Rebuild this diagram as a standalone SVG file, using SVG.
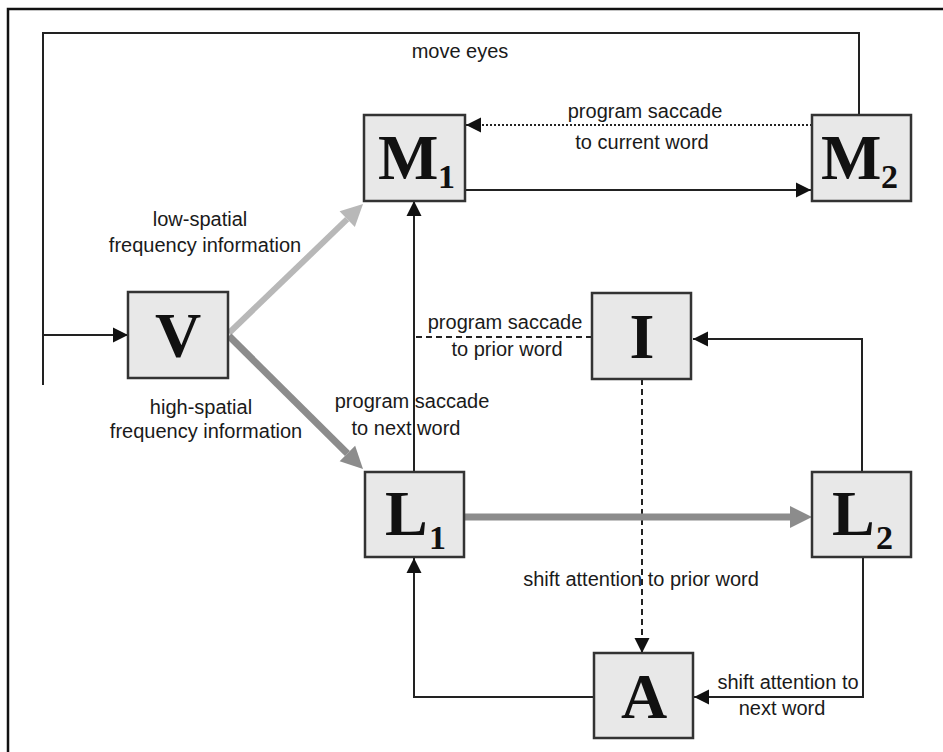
<svg xmlns="http://www.w3.org/2000/svg" width="943" height="752" viewBox="0 0 943 752">
<style>
.box{fill:#e8e8e8;stroke:#333;stroke-width:2.5}
.big{font-family:"Liberation Serif","Times New Roman",serif;font-weight:bold;fill:#111;font-size:64px}
.sub{font-family:"Liberation Serif","Times New Roman",serif;font-weight:bold;fill:#111;font-size:34px}
.lbl{font-family:"Liberation Sans",Arial,sans-serif;font-size:20px;fill:#1a1a1a;text-anchor:middle}
.ln{fill:none;stroke:#222;stroke-width:2}
</style>
<defs>
<marker id="ah" markerUnits="userSpaceOnUse" markerWidth="20" markerHeight="20" refX="15" refY="0" orient="auto" overflow="visible"><path d="M0,-7.5 L15,0 L0,7.5 z" fill="#111"/></marker>
<marker id="gl" markerUnits="userSpaceOnUse" markerWidth="30" markerHeight="30" refX="0" refY="0" orient="auto" overflow="visible"><path d="M0,-11 L22,0 L0,11 z" fill="#b8b8b8"/></marker>
<marker id="gd" markerUnits="userSpaceOnUse" markerWidth="30" markerHeight="30" refX="0" refY="0" orient="auto" overflow="visible"><path d="M0,-11 L22,0 L0,11 z" fill="#8c8c8c"/></marker>
</defs>
<rect width="943" height="752" fill="#fff"/>
<path d="M8,752 V9 H943" fill="none" stroke="#111" stroke-width="2.5"/>
<g id="connectors">
<path class="ln" d="M859,115 V33 H43 V385"/>
<path class="ln" d="M43,335 H128" marker-end="url(#ah)"/>
<path class="ln" d="M812,125 H466" stroke-dasharray="2,2" stroke-width="2.5" marker-end="url(#ah)"/>
<path class="ln" d="M465,190 H811" marker-end="url(#ah)"/>
<path class="ln" d="M414,472 V201" marker-end="url(#ah)"/>
<path class="ln" d="M592,337 H414" stroke-dasharray="6,4"/>
<path class="ln" d="M862,472 V339 H693" marker-end="url(#ah)"/>
<path class="ln" d="M642,379 V653" stroke-dasharray="6,4" stroke-width="1.5" marker-end="url(#ah)"/>
<path class="ln" d="M863,557 V697 H694" marker-end="url(#ah)"/>
<path class="ln" d="M594,697 H414 V558" marker-end="url(#ah)"/>
<path d="M229,333 L347.2,219.2" stroke="#b8b8b8" stroke-width="6" fill="none" marker-end="url(#gl)"/>
<path d="M229,336 L347.4,453.5" stroke="#8c8c8c" stroke-width="7" fill="none" marker-end="url(#gd)"/>
<path d="M465,517 H790" stroke="#8c8c8c" stroke-width="7" fill="none" marker-end="url(#gd)"/>
<text class="lbl" x="460" y="58">move eyes</text>
<text class="lbl" x="645" y="118">program saccade</text>
<text class="lbl" x="642" y="149">to current word</text>
<text class="lbl" x="200" y="226">low-spatial</text>
<text class="lbl" x="205" y="252">frequency information</text>
<text class="lbl" x="505" y="329">program saccade</text>
<text class="lbl" x="507" y="356">to prior word</text>
<text class="lbl" x="201" y="414">high-spatial</text>
<text class="lbl" x="206" y="438">frequency information</text>
<text class="lbl" x="412" y="408">program saccade</text>
<text class="lbl" x="406" y="435">to next word</text>
<text class="lbl" x="641" y="586">shift attention to prior word</text>
<text class="lbl" x="788" y="689">shift attention to</text>
<text class="lbl" x="782" y="715">next word</text>
</g>
<g id="M1"><rect class="box" x="364" y="115" width="101" height="86"/><text class="big" x="378" y="179" font-size="62">M</text><text class="sub" x="438" y="188">1</text></g>
<g id="M2"><rect class="box" x="812" y="115" width="99" height="86"/><text class="big" x="821" y="179" font-size="62">M</text><text class="sub" x="881" y="188">2</text></g>
<g id="V"><rect class="box" x="128" y="292" width="100" height="86"/><text class="big" x="178" y="357" text-anchor="middle">V</text></g>
<g id="I"><rect class="box" x="592" y="293" width="99" height="86"/><text class="big" x="642" y="358" text-anchor="middle">I</text></g>
<g id="L1"><rect class="box" x="365" y="472" width="99" height="85"/><text class="big" x="385" y="535">L</text><text class="sub" x="429" y="549">1</text></g>
<g id="L2"><rect class="box" x="812" y="472" width="99" height="85"/><text class="big" x="832" y="535">L</text><text class="sub" x="876" y="549">2</text></g>
<g id="A"><rect class="box" x="594" y="653" width="99" height="85"/><text class="big" x="644" y="718" text-anchor="middle">A</text></g>
</svg>
